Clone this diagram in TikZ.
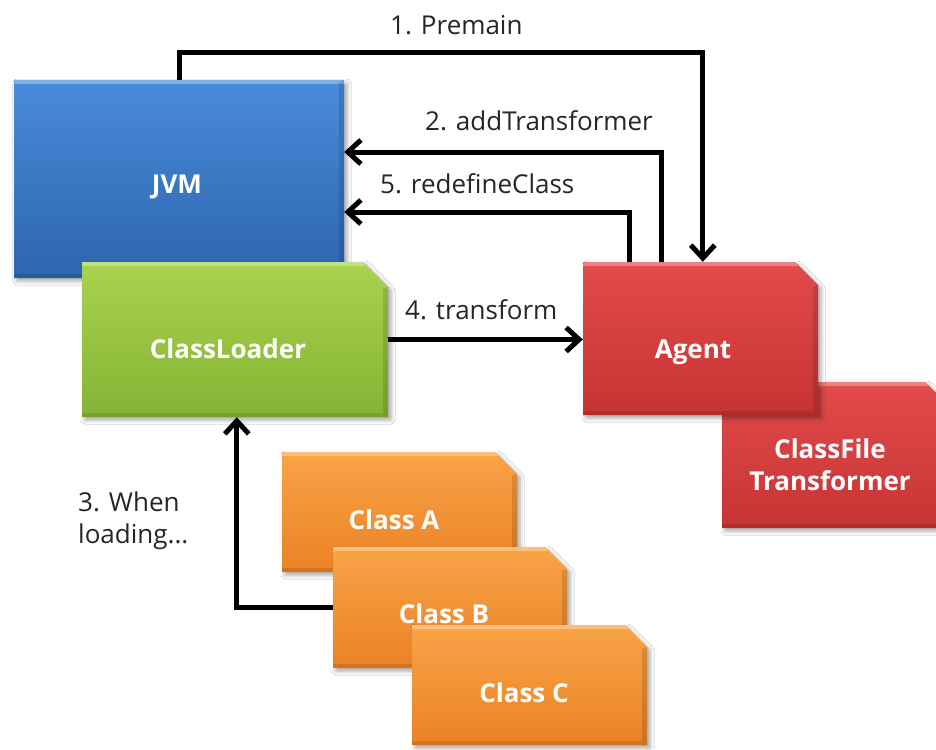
\documentclass[tikz,border=0pt]{standalone}
\usepackage{fontspec}
\setmainfont{Open Sans}
\usetikzlibrary{arrows.meta,fit,shadows.blur}
\definecolor{jvmT}{HTML}{4A8BDA}
\definecolor{jvmB}{HTML}{2D65AE}
\definecolor{grnT}{HTML}{A9D34F}
\definecolor{grnB}{HTML}{86B334}
\definecolor{redT}{HTML}{E34B4B}
\definecolor{redB}{HTML}{C63333}
\definecolor{orgT}{HTML}{F9A347}
\definecolor{orgB}{HTML}{EA8225}
\definecolor{lblcol}{HTML}{262626}
\tikzset{
  arr/.style={line width=5pt, draw=black, -{Straight Barb[length=13pt,width=24pt]}},
  lbl/.style={font=\fontsize{26}{32}\selectfont, text=lblcol, inner sep=0pt, anchor=base west},
  boxtxt/.style={font=\fontsize{26}{34}\selectfont\bfseries, text=white, inner sep=0pt, anchor=base},
  anchorbox/.style={inner sep=0pt, draw=none},
}
\newcommand{\snipbox}[8]{%
  \shade[top color=#7, bottom color=#8,
    blur shadow={shadow xshift=3pt,shadow yshift=-3pt,shadow blur radius=4pt,shadow opacity=35}]
    (#2,#3) -- ({#4-#6},#3) -- (#4,{#3+#6}) -- (#4,#5) -- (#2,#5) -- cycle;
  \fill[white,opacity=.3] (#2,#3) -- ({#4-#6},#3) -- ({#4-#6+3},{#3+4}) -- (#2,{#3+4}) -- cycle;
  \fill[black,opacity=.12] (#4,{#3+#6}) -- (#4,#5) -- ({#4-5},#5) -- ({#4-5},{#3+#6+2}) -- cycle;
  \fill[black,opacity=.1] (#2,{#5-4}) -- ({#4-5},{#5-4}) -- ({#4-5},#5) -- (#2,#5) -- cycle;
  \node[anchorbox, fit={(#2,#3) (#4,#5)}] (#1) {};
}
\begin{document}
\begin{tikzpicture}[x=1pt,y=-1pt]
\useasboundingbox (0,0) rectangle (936,749);
\fill[white] (0,0) rectangle (936,749);

% boxes
\snipbox{jvm}{14}{80}{344}{278}{0}{jvmT}{jvmB}
\node[boxtxt] (jvmt) at (177,193) {JVM};

\snipbox{cl}{82}{262}{388}{417}{25}{grnT}{grnB}
\node[boxtxt] (clt) at (228,358) {ClassLoader};

\snipbox{cft}{722}{382}{948}{528}{23}{redT}{redB}
\node[boxtxt] (cft1) at (830,458) {ClassFile};
\node[boxtxt] (cft2) at (830,490) {Transformer};

\snipbox{agent}{583}{262}{818}{415}{23}{redT}{redB}
\node[boxtxt] (agt) at (693,358) {Agent};

\snipbox{ca}{282}{452}{517}{572}{22}{orgT}{orgB}
\node[boxtxt] (cat) at (394,529) {Class A};

\snipbox{cb}{333}{547}{567}{668}{22}{orgT}{orgB}
\node[boxtxt] (cbt) at (444,623) {Class B};

\snipbox{cc}{412}{625}{647}{745}{22}{orgT}{orgB}
\node[boxtxt] (cct) at (524,702) {Class C};

% connectors
\draw[arr] (jvm.north) -- ++(0,-27) -| ([xshift=120pt]agent.north west);
\draw[arr] ([xshift=79pt]agent.north west) |- ([yshift=27pt]jvm.east);
\draw[arr] ([xshift=47pt]agent.north west) |- ([yshift=-33pt]jvm.east);
\draw[arr] (cl.east) -- (cl.east -| agent.west);
\draw[arr] (cb.west) -| ([xshift=155pt]cl.south west);

% labels
\node[lbl] (l1) at (390,35) {1. Premain};
\node[lbl] (l2) at (425,130) {2. addTransformer};
\node[lbl] (l5) at (380,193) {5. redefineClass};
\node[lbl] (l4) at (405,319) {4. transform};
\node[lbl] (l3a) at (78,511) {3. When};
\node[lbl] (l3b) at (78,543) {loading...};
\end{tikzpicture}
\end{document}
